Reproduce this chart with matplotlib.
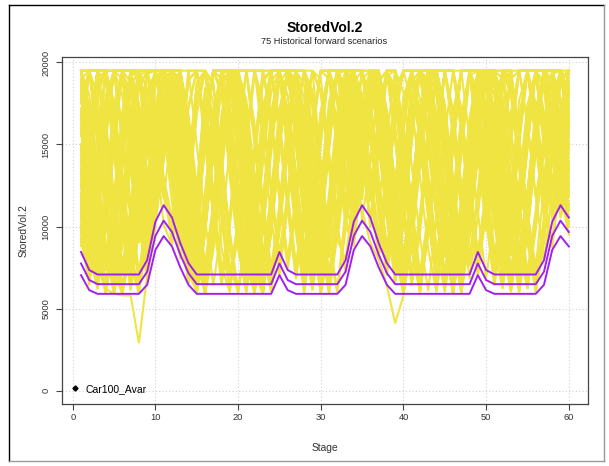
import matplotlib
matplotlib.use("Agg")
import matplotlib.pyplot as plt
from matplotlib.lines import Line2D
import numpy as np

STAGES = list(range(1, 61))

# 75 historical forward scenarios, stored volume in hundreds
SCENARIOS_HUNDREDS = [
    [195, 150, 112, 168, 195, 195, 140, 96, 130, 175, 195, 160, 122, 88, 71, 110, 152, 195, 195, 174, 131, 95, 140, 182, 195, 143, 108, 77, 120, 166, 195, 195, 158, 121, 160, 195, 170, 128, 92, 135, 180, 195, 148, 104, 69, 112, 157, 195, 182, 137, 99, 145, 190, 195, 162, 118, 150, 193, 195, 171],
    [120, 88, 140, 195, 162, 103, 64, 118, 172, 195, 195, 142, 98, 131, 186, 195, 149, 87, 63, 105, 158, 195, 176, 121, 84, 119, 171, 195, 195, 138, 92, 128, 181, 195, 195, 152, 111, 80, 126, 179, 195, 167, 113, 72, 101, 150, 195, 195, 144, 97, 133, 188, 195, 154, 109, 75, 124, 176, 195, 160],
    [165, 195, 195, 147, 91, 59, 102, 155, 195, 195, 178, 131, 94, 68, 97, 148, 195, 184, 130, 86, 60, 113, 167, 195, 195, 160, 115, 73, 108, 161, 195, 175, 126, 99, 143, 195, 188, 141, 96, 62, 95, 151, 195, 195, 170, 123, 81, 129, 183, 195, 195, 146, 100, 66, 117, 162, 195, 195, 195, 173],
    [98, 140, 188, 195, 159, 117, 76, 121, 169, 195, 195, 195, 158, 110, 67, 99, 145, 195, 171, 127, 85, 61, 104, 153, 195, 195, 150, 102, 64, 112, 163, 195, 195, 162, 116, 178, 195, 146, 101, 59, 88, 137, 186, 195, 154, 108, 70, 115, 168, 195, 180, 133, 90, 127, 174, 195, 195, 150, 112, 139],
    [187, 142, 97, 61, 93, 146, 195, 195, 167, 124, 150, 195, 195, 149, 103, 60, 89, 136, 184, 195, 163, 117, 75, 120, 172, 195, 183, 139, 95, 66, 107, 156, 195, 195, 174, 125, 153, 195, 160, 114, 71, 101, 147, 195, 195, 166, 119, 78, 122, 169, 195, 195, 155, 110, 68, 104, 152, 195, 195, 182],
    [143, 101, 68, 109, 160, 195, 195, 153, 106, 141, 195, 171, 123, 80, 59, 97, 151, 195, 195, 157, 111, 74, 116, 170, 195, 142, 96, 59, 100, 154, 195, 195, 176, 128, 172, 195, 150, 104, 70, 118, 165, 195, 195, 143, 99, 63, 106, 158, 195, 160, 114, 76, 123, 177, 195, 195, 148, 173, 195, 150],
    [176, 195, 161, 118, 78, 59, 84, 132, 181, 195, 195, 160, 117, 72, 111, 164, 195, 195, 145, 98, 61, 90, 139, 189, 195, 151, 107, 65, 104, 158, 195, 180, 135, 110, 160, 195, 173, 127, 83, 59, 99, 149, 195, 195, 175, 130, 86, 127, 178, 195, 162, 116, 73, 110, 159, 195, 183, 141, 168, 195],
    [109, 156, 195, 195, 150, 103, 62, 96, 147, 195, 195, 195, 174, 126, 82, 120, 171, 195, 168, 121, 77, 59, 98, 150, 195, 195, 164, 118, 74, 113, 166, 195, 186, 140, 179, 195, 158, 112, 67, 102, 152, 195, 180, 134, 90, 61, 103, 156, 195, 195, 147, 99, 64, 109, 161, 195, 195, 160, 118, 142],
    [195, 173, 128, 84, 59, 91, 142, 192, 195, 160, 122, 99, 143, 195, 195, 161, 114, 69, 107, 159, 195, 195, 152, 105, 70, 112, 163, 195, 176, 130, 87, 60, 111, 162, 195, 178, 131, 88, 124, 175, 195, 151, 106, 65, 97, 148, 195, 195, 162, 117, 80, 121, 170, 195, 195, 157, 109, 87, 130, 175],
    [131, 89, 63, 114, 168, 195, 195, 144, 99, 157, 195, 188, 140, 96, 63, 180, 137, 186, 195, 171, 126, 81, 60, 99, 148, 195, 195, 157, 110, 68, 103, 153, 195, 195, 167, 121, 170, 195, 152, 107, 64, 96, 146, 195, 195, 168, 120, 76, 118, 171, 195, 179, 131, 87, 62, 101, 150, 195, 195, 155],
    [159, 117, 158, 195, 195, 152, 108, 67, 105, 150, 195, 195, 165, 119, 77, 112, 160, 195, 195, 146, 101, 63, 97, 145, 188, 195, 160, 114, 71, 109, 160, 195, 172, 125, 166, 195, 180, 134, 90, 60, 93, 141, 190, 195, 158, 112, 73, 114, 165, 195, 195, 156, 112, 70, 104, 153, 195, 188, 140, 120],
    [92, 66, 105, 155, 195, 195, 170, 125, 82, 121, 170, 195, 190, 141, 96, 61, 94, 144, 193, 195, 168, 123, 79, 115, 166, 195, 195, 141, 95, 59, 87, 135, 183, 195, 195, 160, 115, 78, 116, 168, 195, 195, 154, 109, 67, 101, 150, 195, 195, 163, 118, 76, 114, 164, 195, 195, 152, 106, 154, 195],
    [182, 138, 93, 60, 88, 135, 185, 195, 150, 103, 140, 180, 195, 166, 121, 185, 117, 167, 195, 187, 142, 98, 62, 101, 152, 195, 177, 132, 88, 125, 176, 195, 158, 112, 150, 195, 195, 153, 108, 66, 104, 155, 195, 195, 172, 127, 84, 124, 176, 195, 170, 125, 82, 120, 170, 195, 195, 149, 105, 130],
    [115, 163, 195, 195, 164, 120, 77, 59, 101, 148, 195, 149, 106, 68, 108, 157, 195, 195, 167, 122, 80, 119, 169, 195, 195, 154, 109, 67, 111, 160, 195, 195, 162, 114, 164, 195, 169, 123, 80, 117, 167, 195, 183, 137, 93, 59, 96, 147, 195, 190, 144, 100, 65, 108, 158, 195, 195, 172, 130, 158],
    [195, 195, 150, 106, 65, 98, 149, 195, 195, 172, 128, 90, 125, 174, 195, 195, 156, 110, 70, 104, 153, 195, 195, 166, 122, 80, 118, 170, 195, 181, 136, 91, 135, 108, 148, 195, 185, 139, 94, 60, 96, 145, 195, 195, 164, 118, 76, 120, 172, 195, 195, 163, 118, 74, 109, 160, 195, 195, 165, 125],
    [140, 98, 64, 113, 165, 195, 195, 158, 112, 150, 195, 195, 180, 134, 90, 59, 85, 131, 180, 195, 195, 149, 103, 61, 99, 151, 195, 195, 171, 125, 81, 117, 167, 195, 195, 168, 122, 81, 121, 173, 195, 178, 132, 88, 60, 94, 143, 192, 195, 156, 110, 70, 111, 161, 195, 195, 150, 104, 142, 188],
    [170, 124, 80, 59, 95, 144, 193, 195, 155, 112, 150, 195, 195, 152, 107, 66, 103, 153, 195, 195, 159, 113, 71, 109, 161, 195, 182, 136, 91, 60, 95, 144, 190, 195, 160, 118, 168, 195, 195, 147, 102, 64, 98, 148, 195, 195, 160, 115, 74, 112, 162, 195, 195, 150, 106, 67, 100, 147, 195, 165],
    [104, 149, 195, 195, 176, 131, 87, 60, 92, 143, 188, 195, 160, 113, 69, 102, 154, 195, 195, 152, 107, 65, 104, 156, 195, 195, 151, 106, 63, 100, 150, 195, 195, 170, 124, 171, 195, 158, 113, 72, 108, 159, 195, 180, 135, 91, 60, 97, 145, 192, 195, 150, 105, 63, 101, 150, 195, 195, 178, 134],
    [195, 160, 115, 73, 108, 158, 195, 195, 145, 188, 195, 172, 129, 85, 60, 175, 140, 188, 195, 164, 118, 76, 112, 164, 195, 180, 134, 90, 61, 96, 146, 193, 195, 150, 104, 140, 189, 195, 153, 108, 66, 103, 152, 195, 195, 171, 126, 82, 118, 166, 195, 190, 144, 99, 62, 98, 147, 195, 195, 168],
    [126, 85, 120, 170, 195, 195, 154, 108, 70, 115, 164, 195, 195, 160, 116, 74, 113, 162, 195, 182, 137, 92, 60, 105, 157, 195, 195, 163, 117, 75, 114, 166, 195, 188, 142, 99, 145, 192, 195, 152, 106, 63, 97, 149, 195, 195, 157, 111, 70, 113, 161, 195, 187, 141, 96, 60, 90, 140, 187, 195],
    [155, 195, 195, 158, 113, 71, 110, 161, 195, 195, 195, 145, 100, 65, 102, 151, 195, 195, 174, 128, 83, 121, 172, 195, 195, 166, 120, 78, 116, 168, 195, 176, 130, 98, 145, 195, 195, 149, 105, 64, 99, 150, 195, 192, 146, 100, 62, 105, 155, 195, 195, 175, 129, 85, 121, 170, 195, 158, 112, 148],
    [100, 70, 108, 157, 195, 195, 166, 120, 76, 118, 170, 195, 175, 128, 84, 59, 96, 147, 195, 195, 172, 126, 82, 61, 107, 158, 195, 195, 150, 104, 61, 100, 152, 195, 195, 158, 112, 155, 195, 182, 137, 93, 61, 104, 156, 195, 195, 153, 109, 68, 107, 157, 195, 195, 164, 119, 79, 121, 169, 195],
    [190, 146, 101, 64, 103, 154, 195, 195, 170, 126, 163, 195, 188, 143, 98, 62, 90, 139, 187, 195, 195, 155, 110, 69, 113, 165, 195, 186, 140, 95, 60, 98, 147, 195, 195, 170, 125, 82, 123, 174, 195, 195, 160, 114, 72, 108, 159, 195, 195, 148, 103, 66, 105, 153, 195, 195, 150, 176, 195, 162],
    [88, 130, 181, 195, 195, 149, 104, 66, 110, 160, 195, 195, 155, 110, 71, 109, 158, 195, 195, 161, 115, 72, 59, 98, 150, 195, 195, 160, 115, 72, 110, 160, 195, 180, 190, 195, 170, 125, 81, 120, 171, 195, 178, 132, 88, 59, 92, 141, 189, 195, 152, 106, 65, 104, 155, 195, 195, 195, 150, 113],
    [148, 105, 67, 99, 148, 195, 195, 175, 129, 167, 195, 163, 118, 76, 115, 166, 195, 195, 148, 102, 64, 97, 146, 195, 195, 170, 124, 80, 118, 170, 195, 195, 150, 103, 140, 185, 195, 162, 116, 74, 111, 162, 195, 195, 169, 123, 80, 118, 167, 195, 185, 139, 95, 60, 97, 146, 195, 195, 195, 160],
    [178, 195, 170, 124, 81, 120, 170, 195, 195, 146, 101, 89, 125, 172, 195, 195, 150, 104, 63, 98, 147, 195, 195, 162, 116, 74, 109, 160, 195, 190, 146, 101, 72, 115, 162, 195, 177, 131, 87, 59, 90, 139, 186, 195, 160, 115, 75, 113, 164, 195, 195, 160, 114, 70, 112, 163, 195, 176, 132, 102],
    [112, 160, 195, 195, 150, 105, 63, 98, 147, 192, 195, 150, 106, 70, 105, 155, 195, 195, 169, 123, 79, 60, 102, 152, 195, 195, 159, 113, 70, 107, 157, 195, 195, 165, 120, 165, 195, 150, 105, 140, 188, 195, 152, 107, 65, 99, 150, 195, 195, 170, 124, 80, 119, 168, 195, 195, 170, 127, 158, 195],
    [195, 180, 135, 90, 59, 88, 137, 185, 195, 175, 130, 105, 150, 195, 195, 158, 112, 70, 106, 156, 195, 195, 165, 120, 78, 116, 167, 195, 183, 138, 93, 61, 100, 150, 195, 195, 150, 105, 65, 102, 151, 195, 195, 168, 122, 79, 117, 166, 195, 186, 141, 96, 61, 100, 149, 195, 188, 143, 112, 155],
    [135, 92, 125, 176, 195, 190, 145, 100, 68, 108, 158, 195, 195, 150, 104, 62, 95, 146, 195, 195, 160, 114, 70, 107, 157, 195, 195, 152, 106, 64, 97, 147, 195, 195, 175, 130, 86, 124, 173, 195, 195, 156, 110, 68, 106, 156, 195, 195, 162, 118, 74, 112, 160, 195, 195, 164, 118, 166, 195, 180],
    [165, 195, 195, 150, 104, 61, 94, 145, 193, 195, 195, 175, 130, 86, 60, 99, 148, 195, 195, 152, 106, 65, 103, 153, 195, 195, 168, 121, 78, 117, 168, 195, 180, 134, 158, 195, 195, 158, 113, 70, 108, 160, 195, 190, 144, 99, 60, 95, 144, 192, 195, 150, 104, 64, 103, 152, 195, 195, 165, 122],
    [96, 140, 190, 195, 165, 120, 76, 115, 165, 195, 195, 140, 96, 70, 100, 150, 195, 195, 162, 116, 73, 110, 160, 195, 195, 150, 106, 63, 100, 150, 195, 195, 168, 122, 165, 195, 160, 114, 72, 111, 160, 195, 182, 136, 92, 59, 96, 146, 195, 195, 155, 110, 69, 107, 158, 195, 195, 150, 190, 195],
    [186, 142, 98, 62, 98, 148, 195, 195, 160, 135, 175, 195, 184, 138, 94, 60, 92, 142, 190, 195, 177, 131, 87, 60, 96, 146, 195, 195, 155, 109, 66, 104, 155, 195, 195, 160, 116, 74, 110, 160, 195, 195, 150, 106, 65, 98, 148, 195, 195, 163, 118, 75, 114, 163, 195, 195, 158, 112, 140, 184],
    [118, 79, 117, 168, 195, 195, 158, 112, 70, 110, 160, 195, 195, 168, 124, 178, 118, 168, 195, 185, 140, 95, 61, 99, 148, 195, 190, 145, 100, 63, 102, 152, 195, 195, 162, 120, 160, 195, 195, 150, 105, 65, 100, 150, 195, 195, 165, 120, 78, 117, 166, 195, 180, 135, 90, 60, 93, 142, 190, 195],
    [195, 195, 162, 117, 74, 111, 162, 195, 184, 140, 117, 160, 195, 195, 150, 105, 64, 99, 148, 195, 195, 162, 117, 75, 113, 164, 195, 178, 133, 88, 59, 94, 140, 188, 195, 172, 128, 85, 124, 175, 195, 160, 115, 72, 110, 160, 195, 195, 150, 105, 65, 101, 151, 195, 195, 160, 115, 90, 135, 182],
    [144, 100, 64, 104, 155, 195, 195, 167, 122, 162, 195, 195, 158, 113, 70, 105, 155, 195, 195, 168, 123, 80, 60, 103, 154, 195, 195, 158, 113, 71, 110, 160, 195, 180, 145, 190, 195, 155, 110, 68, 106, 157, 195, 195, 156, 110, 68, 104, 153, 195, 190, 145, 100, 62, 101, 151, 195, 195, 178, 133],
    [172, 127, 84, 120, 170, 195, 188, 142, 97, 140, 185, 195, 172, 126, 83, 59, 90, 139, 188, 195, 166, 120, 77, 115, 166, 195, 181, 137, 92, 60, 93, 142, 191, 195, 168, 122, 167, 195, 185, 140, 96, 61, 96, 146, 195, 195, 170, 125, 82, 120, 170, 195, 195, 155, 110, 69, 106, 156, 195, 170],
    [103, 151, 195, 195, 172, 127, 83, 60, 95, 145, 195, 155, 110, 69, 107, 158, 195, 195, 155, 110, 68, 106, 156, 195, 195, 155, 110, 68, 107, 157, 195, 195, 152, 106, 150, 195, 177, 132, 88, 125, 175, 195, 170, 125, 81, 118, 168, 195, 195, 150, 104, 64, 100, 150, 195, 195, 165, 120, 160, 195],
    [190, 195, 150, 105, 62, 100, 150, 195, 195, 162, 118, 95, 140, 189, 195, 165, 120, 76, 60, 97, 147, 195, 195, 168, 123, 80, 118, 168, 195, 183, 137, 92, 80, 120, 170, 195, 172, 126, 82, 118, 168, 195, 188, 142, 97, 62, 98, 148, 195, 195, 160, 114, 71, 108, 158, 195, 195, 165, 120, 95],
    [125, 83, 63, 108, 160, 195, 195, 150, 104, 150, 195, 188, 142, 98, 63, 100, 150, 195, 195, 165, 120, 76, 113, 163, 195, 195, 155, 109, 67, 104, 155, 195, 195, 170, 130, 172, 195, 160, 114, 71, 110, 161, 195, 183, 138, 93, 60, 94, 143, 190, 195, 170, 125, 81, 119, 169, 195, 183, 138, 112],
    [160, 195, 195, 164, 119, 76, 112, 162, 195, 195, 170, 125, 88, 130, 180, 195, 188, 142, 97, 60, 93, 142, 190, 195, 160, 115, 72, 108, 158, 195, 195, 150, 105, 88, 132, 180, 195, 170, 125, 82, 120, 170, 195, 195, 150, 105, 64, 101, 151, 195, 195, 165, 120, 78, 117, 166, 195, 195, 152, 110],
    [92, 135, 185, 195, 158, 112, 69, 105, 155, 195, 195, 168, 122, 78, 116, 166, 195, 195, 165, 120, 78, 60, 100, 151, 195, 195, 162, 116, 73, 111, 162, 195, 185, 138, 160, 195, 165, 120, 77, 115, 165, 195, 195, 160, 114, 72, 110, 160, 195, 185, 140, 95, 61, 99, 148, 195, 195, 155, 110, 140],
    [180, 136, 92, 60, 93, 143, 192, 195, 165, 120, 160, 195, 195, 155, 110, 68, 104, 154, 195, 195, 150, 105, 64, 101, 152, 195, 195, 170, 125, 82, 120, 170, 195, 195, 175, 130, 87, 117, 165, 195, 195, 150, 106, 66, 103, 153, 195, 195, 175, 130, 86, 62, 102, 152, 195, 195, 160, 125, 170, 195],
    [110, 72, 110, 160, 195, 195, 155, 110, 68, 105, 155, 195, 195, 150, 105, 65, 100, 150, 195, 190, 145, 100, 62, 100, 149, 195, 195, 150, 105, 62, 99, 148, 195, 195, 168, 124, 80, 120, 170, 195, 195, 165, 120, 78, 116, 166, 195, 195, 160, 115, 72, 110, 160, 195, 195, 172, 127, 176, 195, 168],
    [195, 162, 118, 76, 114, 164, 195, 195, 152, 190, 195, 185, 140, 95, 62, 97, 147, 195, 195, 175, 130, 85, 60, 96, 146, 195, 195, 165, 120, 77, 115, 165, 195, 190, 148, 102, 150, 195, 195, 150, 104, 64, 99, 149, 195, 195, 168, 122, 80, 118, 168, 195, 192, 146, 101, 64, 102, 150, 195, 175],
    [150, 108, 147, 195, 195, 160, 115, 72, 108, 158, 195, 150, 105, 66, 104, 155, 195, 195, 170, 125, 82, 118, 168, 195, 195, 165, 120, 78, 116, 166, 195, 195, 160, 115, 155, 195, 185, 140, 95, 61, 96, 145, 195, 195, 165, 120, 78, 115, 165, 195, 195, 155, 110, 68, 107, 157, 195, 190, 145, 100],
    [100, 64, 102, 152, 195, 195, 170, 125, 82, 120, 170, 195, 175, 130, 86, 60, 92, 142, 190, 195, 195, 152, 107, 66, 104, 154, 195, 195, 160, 115, 72, 110, 160, 195, 195, 152, 106, 70, 108, 158, 195, 195, 155, 110, 67, 103, 153, 195, 195, 160, 115, 72, 111, 161, 195, 195, 152, 108, 150, 195],
    [175, 195, 180, 135, 90, 60, 96, 146, 195, 195, 160, 115, 80, 118, 168, 195, 185, 140, 95, 61, 98, 148, 195, 195, 165, 120, 77, 115, 165, 195, 190, 145, 100, 90, 135, 185, 195, 165, 120, 76, 114, 165, 195, 190, 145, 100, 62, 100, 150, 195, 195, 172, 128, 84, 121, 171, 195, 195, 160, 118],
    [132, 90, 125, 175, 195, 195, 150, 105, 70, 100, 150, 195, 195, 158, 113, 70, 108, 158, 195, 180, 135, 90, 60, 99, 149, 195, 195, 160, 114, 72, 106, 156, 195, 195, 160, 116, 160, 195, 175, 130, 86, 60, 95, 145, 195, 195, 172, 127, 84, 122, 172, 195, 195, 150, 106, 65, 101, 151, 195, 165],
    [185, 140, 95, 61, 97, 147, 195, 195, 170, 128, 168, 195, 190, 145, 100, 64, 99, 149, 195, 195, 165, 120, 76, 114, 164, 195, 188, 142, 98, 62, 98, 148, 195, 195, 150, 140, 188, 195, 160, 115, 72, 108, 158, 195, 195, 155, 110, 68, 106, 156, 195, 195, 160, 115, 72, 110, 160, 195, 195, 158],
    [106, 155, 195, 195, 160, 115, 72, 110, 160, 195, 195, 160, 115, 73, 112, 162, 195, 195, 150, 105, 64, 100, 150, 195, 195, 170, 124, 80, 118, 168, 195, 180, 135, 100, 145, 195, 192, 146, 100, 63, 100, 150, 195, 195, 170, 125, 82, 120, 170, 195, 180, 135, 90, 60, 95, 145, 194, 195, 160, 120],
    [162, 118, 75, 112, 162, 195, 195, 155, 110, 150, 195, 195, 165, 120, 77, 60, 98, 148, 195, 195, 155, 110, 68, 106, 156, 195, 195, 155, 110, 68, 104, 154, 195, 185, 165, 195, 175, 130, 86, 124, 174, 195, 182, 137, 92, 60, 95, 145, 193, 195, 150, 105, 63, 100, 150, 195, 195, 170, 128, 150],
    [115, 160, 195, 188, 143, 98, 61, 98, 148, 195, 195, 170, 125, 82, 120, 170, 195, 190, 145, 100, 62, 98, 148, 195, 195, 162, 117, 74, 112, 162, 195, 195, 160, 115, 150, 195, 160, 115, 73, 110, 160, 195, 195, 160, 115, 72, 108, 158, 195, 175, 130, 86, 60, 98, 148, 195, 195, 160, 115, 145],
    [195, 195, 155, 110, 68, 104, 154, 195, 195, 170, 125, 98, 142, 190, 195, 150, 105, 64, 100, 150, 195, 195, 170, 126, 83, 120, 170, 195, 180, 135, 90, 60, 98, 148, 195, 195, 160, 115, 72, 108, 158, 195, 190, 145, 100, 63, 100, 150, 195, 195, 160, 115, 72, 108, 158, 195, 195, 150, 188, 195],
    [128, 86, 62, 104, 155, 195, 195, 165, 120, 160, 195, 190, 145, 100, 64, 98, 148, 195, 195, 160, 115, 72, 108, 158, 195, 195, 150, 105, 63, 100, 150, 195, 195, 165, 120, 165, 195, 170, 125, 82, 120, 170, 195, 180, 135, 90, 60, 96, 146, 195, 195, 160, 115, 72, 110, 160, 195, 195, 175, 130],
    [170, 195, 195, 150, 105, 63, 100, 150, 195, 195, 180, 135, 92, 128, 175, 195, 175, 130, 86, 60, 90, 140, 188, 195, 155, 110, 68, 105, 155, 195, 195, 160, 115, 92, 138, 188, 195, 155, 110, 68, 106, 156, 195, 195, 160, 115, 73, 111, 160, 195, 188, 143, 98, 62, 100, 150, 195, 195, 150, 105],
    [95, 138, 188, 195, 165, 120, 77, 115, 165, 195, 195, 150, 105, 66, 104, 154, 195, 195, 170, 126, 83, 61, 102, 152, 195, 195, 158, 112, 70, 108, 158, 195, 180, 135, 168, 195, 180, 135, 90, 60, 94, 143, 190, 195, 152, 107, 65, 102, 152, 195, 195, 170, 125, 82, 120, 170, 195, 178, 133, 165],
    [150, 105, 66, 103, 152, 195, 195, 170, 125, 165, 195, 195, 160, 115, 72, 110, 160, 195, 195, 150, 106, 66, 104, 154, 195, 195, 165, 120, 77, 115, 165, 195, 195, 160, 130, 175, 195, 160, 115, 72, 110, 160, 195, 195, 165, 120, 77, 113, 162, 195, 195, 150, 105, 65, 103, 152, 195, 195, 195, 160],
    [188, 145, 100, 62, 99, 149, 195, 195, 160, 115, 140, 185, 195, 155, 110, 68, 105, 155, 195, 195, 170, 125, 82, 120, 170, 195, 183, 138, 93, 61, 96, 146, 195, 195, 175, 130, 88, 125, 175, 195, 195, 170, 125, 82, 120, 170, 195, 195, 150, 105, 64, 101, 151, 195, 195, 165, 120, 90, 138, 186],
    [120, 80, 118, 168, 195, 195, 160, 115, 72, 110, 160, 195, 195, 150, 105, 64, 100, 150, 195, 185, 140, 95, 60, 97, 147, 195, 195, 160, 115, 72, 108, 158, 195, 190, 145, 105, 150, 195, 195, 160, 115, 72, 108, 158, 195, 195, 158, 112, 70, 108, 158, 195, 185, 140, 95, 61, 97, 147, 195, 195],
    [195, 170, 125, 82, 120, 170, 195, 190, 145, 185, 195, 160, 115, 72, 60, 98, 148, 195, 195, 165, 120, 76, 113, 163, 195, 195, 152, 107, 65, 102, 152, 195, 195, 170, 126, 172, 195, 170, 125, 82, 120, 170, 195, 195, 150, 105, 63, 100, 150, 195, 195, 160, 115, 72, 110, 160, 195, 195, 160, 118],
    [138, 95, 130, 180, 195, 180, 135, 90, 120, 170, 195, 195, 158, 113, 70, 107, 157, 195, 195, 150, 105, 65, 103, 153, 195, 195, 170, 125, 82, 120, 170, 195, 185, 140, 160, 195, 165, 120, 78, 116, 166, 195, 195, 150, 106, 66, 103, 153, 195, 190, 145, 100, 64, 102, 152, 195, 195, 165, 125, 170],
    [175, 195, 160, 115, 72, 59, 97, 147, 195, 195, 195, 165, 120, 77, 115, 165, 195, 180, 135, 90, 60, 96, 146, 195, 195, 160, 115, 72, 110, 160, 195, 195, 150, 110, 150, 195, 195, 155, 110, 68, 104, 154, 195, 188, 143, 98, 62, 99, 149, 195, 195, 165, 120, 77, 116, 166, 195, 170, 130, 100],
    [100, 145, 195, 195, 170, 125, 82, 120, 170, 195, 180, 135, 95, 140, 188, 195, 165, 120, 76, 60, 98, 148, 195, 195, 160, 115, 72, 108, 158, 195, 195, 160, 115, 95, 140, 190, 195, 150, 105, 64, 100, 150, 195, 195, 160, 115, 72, 110, 160, 195, 195, 150, 105, 64, 102, 152, 195, 188, 145, 100],
    [160, 115, 72, 108, 158, 195, 195, 150, 105, 145, 190, 195, 175, 130, 86, 60, 96, 146, 195, 195, 160, 115, 72, 110, 160, 195, 195, 150, 105, 64, 100, 150, 195, 195, 165, 120, 165, 195, 180, 135, 90, 60, 97, 147, 195, 195, 165, 120, 77, 115, 165, 195, 190, 145, 100, 63, 100, 150, 195, 178],
    [112, 70, 108, 158, 195, 195, 165, 120, 77, 115, 165, 195, 195, 150, 105, 64, 101, 151, 195, 195, 155, 110, 68, 105, 155, 195, 190, 145, 100, 63, 100, 150, 195, 175, 130, 180, 195, 170, 125, 82, 120, 170, 195, 195, 150, 105, 64, 100, 150, 195, 170, 125, 82, 120, 170, 195, 195, 160, 115, 140],
    [195, 150, 105, 64, 101, 151, 195, 195, 170, 125, 150, 185, 195, 165, 120, 77, 114, 164, 195, 170, 125, 82, 60, 98, 148, 195, 195, 155, 110, 68, 106, 156, 195, 195, 170, 125, 90, 130, 178, 195, 195, 150, 105, 64, 100, 150, 195, 195, 165, 120, 77, 115, 165, 195, 195, 150, 105, 120, 165, 195],
    [145, 195, 195, 160, 115, 72, 108, 158, 195, 195, 195, 150, 105, 66, 103, 153, 195, 195, 160, 115, 72, 110, 160, 195, 195, 170, 125, 82, 120, 170, 195, 180, 135, 105, 150, 195, 185, 140, 95, 61, 98, 148, 195, 195, 160, 115, 72, 110, 160, 195, 195, 160, 115, 72, 108, 158, 195, 195, 175, 135],
    [90, 130, 180, 195, 150, 105, 64, 100, 150, 195, 195, 180, 135, 90, 60, 95, 145, 193, 195, 160, 115, 72, 108, 158, 195, 195, 165, 120, 77, 115, 165, 195, 195, 150, 130, 175, 195, 165, 120, 77, 115, 165, 195, 180, 135, 90, 60, 96, 146, 195, 195, 150, 105, 66, 104, 154, 195, 195, 160, 125],
    [180, 135, 90, 125, 175, 195, 180, 135, 90, 130, 175, 195, 195, 150, 105, 64, 100, 150, 195, 195, 165, 120, 77, 115, 165, 195, 195, 150, 105, 64, 100, 150, 195, 195, 180, 135, 95, 135, 185, 195, 175, 130, 86, 60, 96, 146, 195, 195, 160, 115, 72, 108, 158, 195, 195, 175, 130, 170, 195, 175],
    [125, 83, 62, 100, 150, 195, 195, 160, 115, 150, 195, 195, 170, 125, 82, 120, 170, 195, 195, 155, 110, 68, 104, 154, 195, 195, 160, 115, 72, 108, 158, 195, 195, 165, 125, 170, 195, 170, 125, 82, 120, 170, 195, 195, 150, 105, 64, 100, 150, 190, 145, 100, 63, 100, 150, 195, 195, 160, 115, 150],
    [150, 110, 90, 62, 59, 58, 58, 29, 70, 120, 170, 195, 165, 120, 77, 115, 165, 195, 185, 140, 95, 62, 100, 150, 195, 195, 160, 115, 72, 110, 160, 195, 195, 150, 145, 190, 195, 150, 105, 64, 100, 150, 195, 195, 170, 125, 82, 120, 170, 195, 195, 150, 105, 64, 100, 150, 195, 195, 165, 125],
    [170, 125, 82, 120, 170, 195, 195, 150, 105, 150, 195, 175, 130, 86, 60, 97, 147, 195, 195, 165, 120, 77, 115, 165, 195, 195, 150, 105, 64, 100, 150, 195, 180, 135, 110, 90, 80, 64, 41, 58, 100, 150, 195, 195, 160, 115, 72, 110, 160, 195, 190, 145, 100, 62, 100, 150, 195, 195, 150, 110],
    [108, 155, 195, 195, 155, 110, 68, 104, 154, 195, 195, 165, 120, 77, 115, 165, 195, 195, 150, 105, 64, 100, 150, 195, 195, 160, 115, 72, 108, 158, 195, 195, 165, 120, 165, 195, 175, 130, 86, 124, 174, 195, 185, 140, 95, 61, 97, 147, 195, 195, 155, 110, 68, 105, 155, 195, 195, 160, 120, 165],
    [165, 120, 77, 60, 96, 146, 195, 195, 165, 120, 160, 195, 195, 150, 105, 64, 100, 150, 195, 190, 145, 100, 63, 100, 150, 195, 195, 155, 110, 68, 104, 154, 195, 195, 170, 125, 82, 120, 170, 195, 195, 155, 110, 68, 104, 154, 195, 195, 160, 115, 72, 108, 158, 195, 195, 165, 120, 165, 195, 190],
    [135, 92, 128, 178, 195, 195, 150, 105, 72, 110, 160, 195, 195, 160, 115, 72, 110, 160, 195, 175, 130, 86, 60, 96, 146, 195, 195, 165, 120, 77, 115, 165, 195, 195, 160, 115, 160, 195, 175, 130, 86, 60, 97, 147, 195, 195, 170, 125, 82, 120, 170, 195, 195, 150, 105, 64, 100, 150, 195, 180],
]

# reference curves (three levels), stored volume
CURVE_HIGH = [8450, 7350, 7080, 7080, 7080, 7080, 7080, 7080, 7950, 10300,
              11300, 10550, 9000, 7770, 7080, 7080, 7080, 7080, 7080, 7080,
              7080, 7080, 7080, 7080, 8450, 7350, 7080, 7080, 7080, 7080,
              7080, 7080, 7950, 10300, 11300, 10550, 9000, 7770, 7080, 7080,
              7080, 7080, 7080, 7080, 7080, 7080, 7080, 7080, 8450, 7350,
              7080, 7080, 7080, 7080, 7080, 7080, 7950, 10300, 11300, 10550]
CURVE_MID = [7750, 6740, 6490, 6490, 6490, 6490, 6490, 6490, 7250, 9440,
             10360, 9670, 8300, 7160, 6490, 6490, 6490, 6490, 6490, 6490,
             6490, 6490, 6490, 6490, 7750, 6740, 6490, 6490, 6490, 6490,
             6490, 6490, 7250, 9440, 10360, 9670, 8300, 7160, 6490, 6490,
             6490, 6490, 6490, 6490, 6490, 6490, 6490, 6490, 7750, 6740,
             6490, 6490, 6490, 6490, 6490, 6490, 7250, 9440, 10360, 9670]
CURVE_LOW = [7040, 6125, 5900, 5900, 5900, 5900, 5900, 5900, 6450, 8580,
             9420, 8790, 7520, 6450, 5900, 5900, 5900, 5900, 5900, 5900,
             5900, 5900, 5900, 5900, 7040, 6125, 5900, 5900, 5900, 5900,
             5900, 5900, 6450, 8580, 9420, 8790, 7520, 6450, 5900, 5900,
             5900, 5900, 5900, 5900, 5900, 5900, 5900, 5900, 7040, 6125,
             5900, 5900, 5900, 5900, 5900, 5900, 6450, 8580, 9420, 8790]

X_TICKS = [0, 10, 20, 30, 40, 50, 60]
Y_TICKS = [0, 5000, 10000, 15000, 20000]

YELLOW = "#F0E442"
PURPLE = "#A020F0"

for row in SCENARIOS_HUNDREDS:
    assert len(row) == len(STAGES)

plt.rcParams["font.family"] = ["Liberation Sans", "DejaVu Sans"]

fig = plt.figure(figsize=(6.09, 4.66), dpi=100)
ax = fig.add_axes([0.101, 0.1341, 0.865, 0.7436])

for row in SCENARIOS_HUNDREDS:
    ax.plot(STAGES, np.array(row) * 100, color=YELLOW, lw=1.5, zorder=2,
            solid_joinstyle="miter")

ax.grid(True, color="#d0d0d0", linestyle=(0, (1, 2)), lw=0.8, zorder=2.5)

for curve in (CURVE_HIGH, CURVE_MID, CURVE_LOW):
    ax.plot(STAGES, curve, color=PURPLE, lw=1.4, zorder=3)

ax.set_xlim(-1.36, 62.36)
ax.set_ylim(-782, 20332)
ax.set_xticks(X_TICKS)
ax.set_yticks(Y_TICKS)
ax.set_yticklabels([str(v) for v in Y_TICKS], rotation=90, va="center")
ax.tick_params(labelsize=6.7, colors="#444444", labelcolor="#333333",
               length=4.5, width=0.8)
ax.tick_params(axis="y", pad=3.5)
ax.tick_params(axis="x", pad=2.5)
for s in ax.spines.values():
    s.set_color("#444444")
    s.set_linewidth(0.9)

ax.set_xlabel("Stage", fontsize=7.4, color="#333333")
ax.set_ylabel("StoredVol.2", fontsize=7.4, color="#333333")
ax.xaxis.set_label_coords(0.5, -0.128)
ax.yaxis.set_label_coords(-0.0725, 0.5)
for lab in (ax.xaxis.label, ax.yaxis.label):
    lab.set_verticalalignment("center")

fig.text(324.3 / 609, 1 - 32.3 / 466, "StoredVol.2", ha="center",
         va="baseline", fontsize=10, fontweight="bold", color="black")
fig.text(324.0 / 609, 1 - 43.5 / 466, "75 Historical forward scenarios",
         ha="center", va="baseline", fontsize=6.6, color="#222222")

handle = Line2D([], [], marker="D", color="black", markersize=2.6, lw=0)
ax.legend(handles=[handle], labels=["Car100_Avar"], loc="lower left",
          frameon=False, fontsize=7.5, handlelength=0.8, handletextpad=0.6,
          borderaxespad=0.7, borderpad=0.2)

# outer frame of the screenshot
fig.add_artist(Line2D([8.5 / 609, 8.5 / 609], [1 - 5 / 466, 1 - 461 / 466],
                      transform=fig.transFigure, color="black", lw=1))
fig.add_artist(Line2D([8.5 / 609, 604 / 609], [1 - 5 / 466, 1 - 5 / 466],
                      transform=fig.transFigure, color="black", lw=1))
fig.add_artist(Line2D([604 / 609, 604 / 609], [1 - 5 / 466, 1 - 461 / 466],
                      transform=fig.transFigure, color="#999999", lw=1))
fig.add_artist(Line2D([8.5 / 609, 604 / 609], [1 - 461 / 466, 1 - 461 / 466],
                      transform=fig.transFigure, color="#999999", lw=1))

fig.savefig("out.png", dpi=100)
